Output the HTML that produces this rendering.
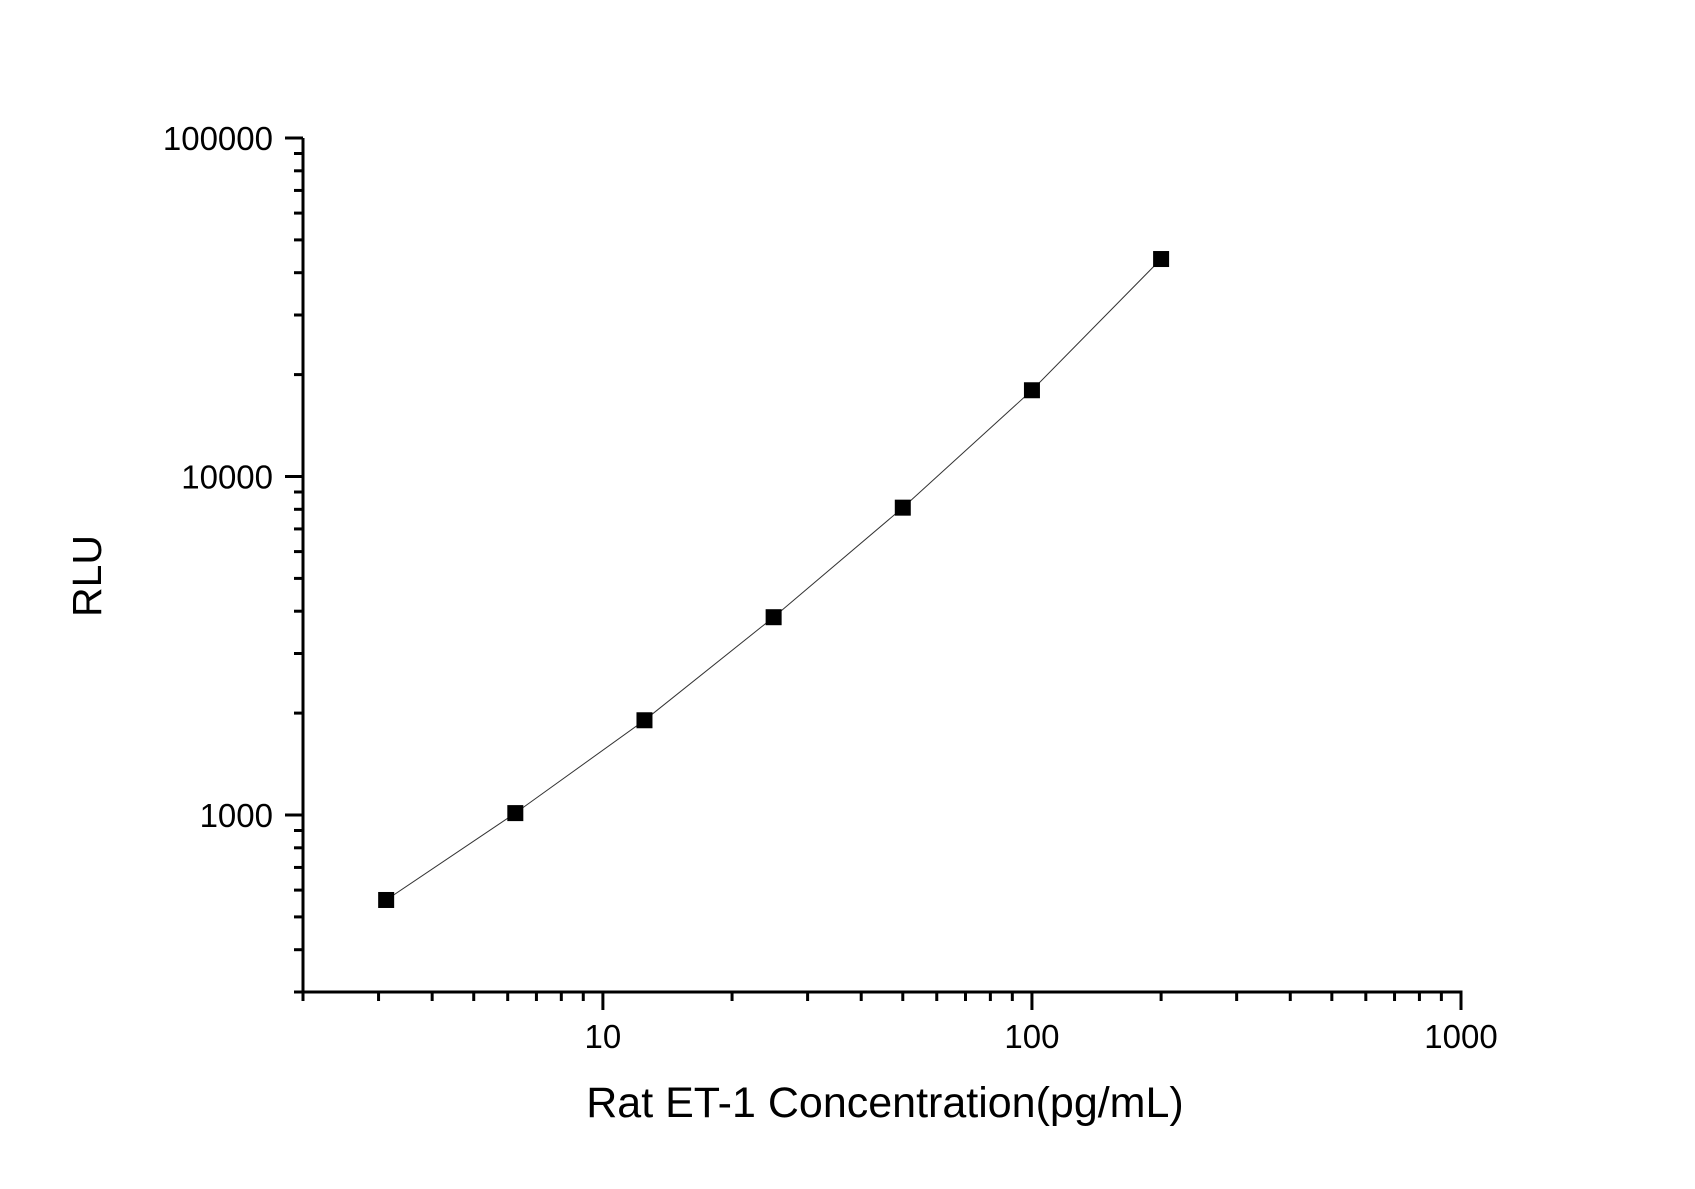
<!DOCTYPE html>
<html><head><meta charset="utf-8"><style>html,body{margin:0;padding:0;background:#fff}svg{display:block}text{font-family:"Liberation Sans",Arial,sans-serif;fill:#000}</style></head>
<body>
<svg id="chart" width="1695" height="1189" viewBox="0 0 1695 1189" xmlns="http://www.w3.org/2000/svg">
<g id="axes"></g><g id="series"></g>
<text x="0" y="0" font-size="41" text-anchor="middle" transform="translate(101,576) rotate(-90)">RLU</text>
<text x="885" y="1117" font-size="43" text-anchor="middle">Rat ET-1 Concentration(pg/mL)</text>
</svg>
<script>
const concentrations = [3.125, 6.25, 12.5, 25, 50, 100, 200];
const rluValues = [561, 1013, 1905, 3840, 8090, 17980, 43900];
const xTickLabels = ["10", "100", "1000"];
const yTickLabels = ["1000", "10000", "100000"];

const NS = "http://www.w3.org/2000/svg";
const X0 = 303, X1 = 1461, Y0 = 992, YTOP = 138;
const xMin = 2, xMax = 1000, yMin = 300, yMax = 100000;
const xs = v => X0 + (Math.log10(v) - Math.log10(xMin)) / (Math.log10(xMax) - Math.log10(xMin)) * (X1 - X0);
const ys = v => Y0 - (Math.log10(v) - Math.log10(yMin)) / (Math.log10(yMax) - Math.log10(yMin)) * (Y0 - YTOP);
function mk(tag, attrs, parent) {
  const e = document.createElementNS(NS, tag);
  for (const k in attrs) e.setAttribute(k, attrs[k]);
  parent.appendChild(e); return e;
}
const axes = document.getElementById('axes');
const series = document.getElementById('series');

let yAxis = mk('line', {x1: X0, y1: YTOP, x2: X0, y2: Y0 + 1.5, stroke: '#000', 'stroke-width': 3}, axes);


let xAxis = mk('line', {x1: X0 - 1.5, y1: Y0, x2: X1 + 1.5, y2: Y0, stroke: '#000', 'stroke-width': 3}, axes);



for (let d = 0; d <= 3; d++) {
  for (let m = 1; m <= 9; m++) {
    const v = m * Math.pow(10, d);
    if (v < xMin || v > xMax) continue;
    const x = xs(v), major = (m === 1);
    const t = mk('line', {x1: x, y1: Y0, x2: x, y2: Y0 + (major ? 18 : 9), stroke: '#000', 'stroke-width': 3}, axes);
    
    
  }
}
xTickLabels.forEach(s => {
  const t = mk('text', {x: xs(parseFloat(s)), y: 1048, 'font-size': 33, 'text-anchor': 'middle'}, axes);
  t.textContent = s;
  
  
});
for (let d = 2; d <= 5; d++) {
  for (let m = 1; m <= 9; m++) {
    const v = m * Math.pow(10, d);
    if (v < yMin || v > yMax) continue;
    const y = ys(v), major = (m === 1);
    const t = mk('line', {x1: X0, y1: y, x2: X0 - (major ? 18 : 9), y2: y, stroke: '#000', 'stroke-width': 3}, axes);
    
    
  }
}
yTickLabels.forEach(s => {
  const t = mk('text', {x: 273, y: ys(parseFloat(s)) + 12, 'font-size': 33, 'text-anchor': 'end'}, axes);
  t.textContent = s;
  
  
});
const pts = concentrations.map((c, i) => xs(c).toFixed(1) + ',' + ys(rluValues[i]).toFixed(1)).join(' ');
const pl = mk('polyline', {points: pts, fill: 'none', stroke: '#333', 'stroke-width': 1}, series);


concentrations.forEach((c, i) => {
  const r = mk('rect', {x: xs(c) - 8, y: ys(rluValues[i]) - 8, width: 16, height: 16, fill: '#000'}, series);
  
  
});
</script>
</body></html>
